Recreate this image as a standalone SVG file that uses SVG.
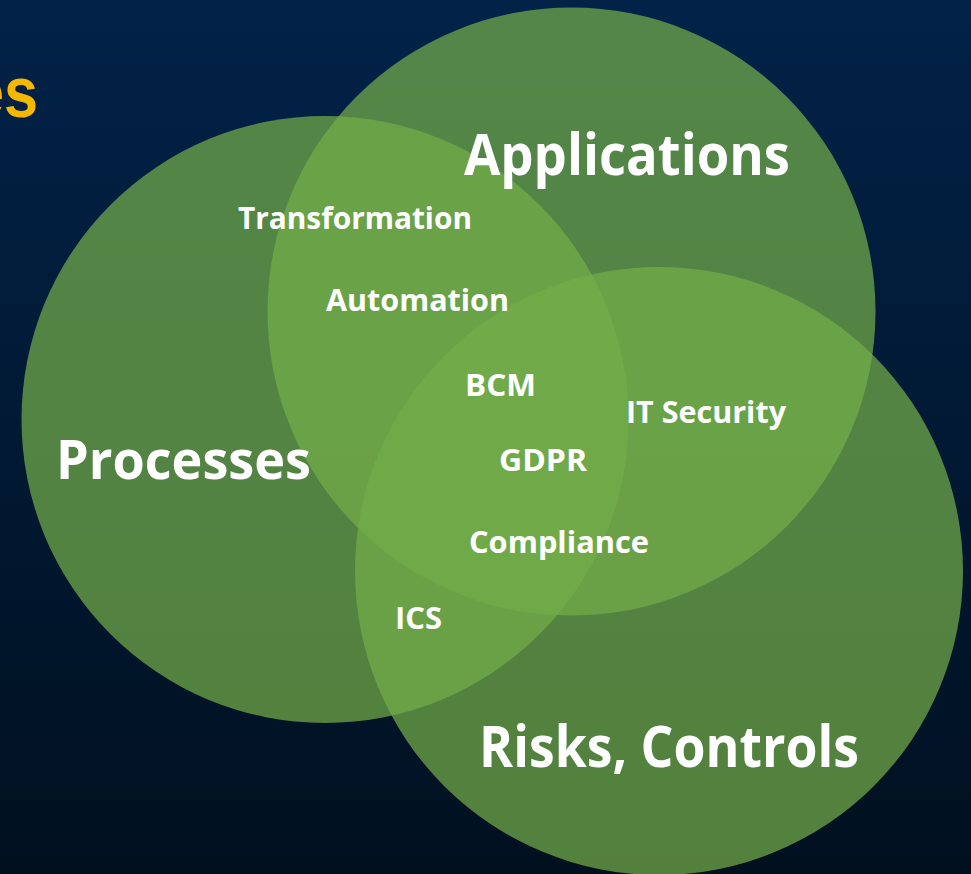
<svg xmlns="http://www.w3.org/2000/svg" width="971" height="874" viewBox="0 0 971 874">
  <defs>
    <linearGradient id="bg" x1="0" y1="0" x2="0" y2="1">
      <stop offset="0" stop-color="#022248"/>
      <stop offset="1" stop-color="#00101f"/>
    </linearGradient>
  </defs>
  <style>
    .c { fill: #73ad4a; fill-opacity: 0.72; }
    .big { font-family: "Open Sans", "Liberation Sans", sans-serif; font-weight: bold; fill: #ffffff; }
    .sm { font-family: "Open Sans", "Liberation Sans", sans-serif; font-weight: bold; fill: #ffffff; font-size: 30px; }
  </style>
  <rect x="0" y="0" width="971" height="874" fill="url(#bg)"/>
  <text x="38" y="117" text-anchor="end" font-family="Liberation Sans, Arial, sans-serif" font-weight="bold" font-size="72" fill="#f5b800" transform="translate(38 0) scale(0.85 1) translate(-38 0)">es</text>

  <g id="processes">
    <circle class="c" cx="325" cy="419.5" r="303.5"/>
  </g>
  <g id="applications">
    <circle class="c" cx="571.5" cy="311.5" r="304"/>
  </g>
  <g id="risks">
    <circle class="c" cx="659" cy="571" r="304"/>
  </g>

  <g id="labels">
    <text class="big" x="56" y="479" font-size="53" textLength="255" lengthAdjust="spacingAndGlyphs">Processes</text>
    <text class="big" x="464" y="175" font-size="58" textLength="326" lengthAdjust="spacingAndGlyphs">Applications</text>
    <text class="big" x="479" y="767" font-size="58" textLength="380" lengthAdjust="spacingAndGlyphs">Risks, Controls</text>
    <text class="sm" x="238" y="229" textLength="234" lengthAdjust="spacingAndGlyphs">Transformation</text>
    <text class="sm" x="326" y="311" textLength="183" lengthAdjust="spacingAndGlyphs">Automation</text>
    <text class="sm" x="465" y="396" textLength="71" lengthAdjust="spacingAndGlyphs">BCM</text>
    <text class="sm" x="499" y="471" textLength="88" lengthAdjust="spacingAndGlyphs">GDPR</text>
    <text class="sm" x="469" y="553" textLength="180" lengthAdjust="spacingAndGlyphs">Compliance</text>
    <text class="sm" x="626" y="423" textLength="160" lengthAdjust="spacingAndGlyphs">IT Security</text>
    <text class="sm" x="395" y="629" textLength="47" lengthAdjust="spacingAndGlyphs">ICS</text>
  </g>
</svg>
